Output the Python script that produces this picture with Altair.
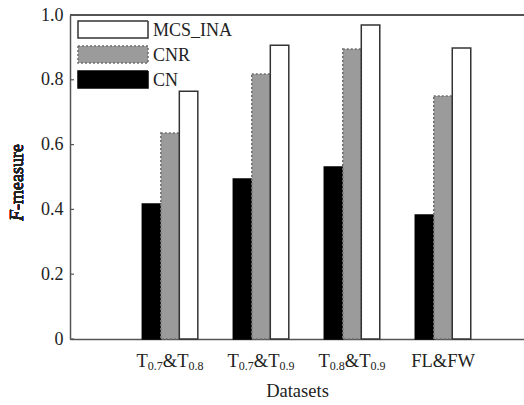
import altair as alt
import pandas as pd

datasets = ["T0.7&T0.8", "T0.7&T0.9", "T0.8&T0.9", "FL&FW"]
series = ["CN", "CNR", "MCS_INA"]
legend_order = ["MCS_INA", "CNR", "CN"]
cn = [0.417, 0.494, 0.531, 0.383]
cnr = [0.636, 0.818, 0.895, 0.750]
mcs = [0.765, 0.907, 0.969, 0.898]
yticks = [0, 0.2, 0.4, 0.6, 0.8, 1.0]

# tick label pieces (main text and subscripts) for each dataset
label_dataset = ["T0.7&T0.8"] * 4 + ["T0.7&T0.9"] * 4 + ["T0.8&T0.9"] * 4 + ["FL&FW"]
label_text = ["T", "0.7", "&T", "0.8", "T", "0.7", "&T", "0.9", "T", "0.8", "&T", "0.9", "FL&FW"]
label_sub = [0, 1, 0, 1] * 3 + [0]

FONT = "Liberation Serif"
MAIN, SUB = 18.5, 12
W, H = 454, 324
P_INNER, P_OUTER = 0.39, 0.69
STEP = W / (len(datasets) - P_INNER + 2 * P_OUTER)
HALF_BAND = STEP * (1 - P_INNER) / 2


def text_width(t, size):
    em = {"T": 0.611, "&": 0.778, ".": 0.25, "F": 0.556, "L": 0.611, "W": 0.944}
    return sum(em.get(c, 0.5) for c in t) * size


rows = []
for i, d in enumerate(datasets):
    for s, vals in zip(series, [cn, cnr, mcs]):
        rows.append({"dataset": d, "method": s, "value": vals[i]})
df = pd.DataFrame(rows)
tick_df = pd.DataFrame({"value": yticks})
leg_df = pd.DataFrame({"method": legend_order})

lab_rows = []
for d in datasets:
    parts = [(t, s) for dd, t, s in zip(label_dataset, label_text, label_sub) if dd == d]
    widths = [text_width(t, SUB if s else MAIN) for t, s in parts]
    pos = HALF_BAND - sum(widths) / 2
    for (t, s), w in zip(parts, widths):
        lab_rows.append({"dataset": d, "text": t, "dx": pos, "dy": 3 if s else 0,
                         "size": SUB if s else MAIN})
        pos += w
lab_df = pd.DataFrame(lab_rows)

xscale = alt.Scale(domain=datasets, paddingInner=P_INNER, paddingOuter=P_OUTER, align=0.576)
offscale = alt.Scale(domain=series, paddingInner=0, paddingOuter=0)
yscale = alt.Scale(domain=[0, 1], nice=False)
fill_s = alt.Scale(domain=series, range=["#000000", "#9b9b9b", "#ffffff"])
stroke_s = alt.Scale(domain=series, range=["#000000", "#6e6e6e", "#333333"])
dash_s = alt.Scale(domain=series, range=[[1, 0], [2, 2], [1, 0]])

bars = alt.Chart(df).mark_bar(strokeWidth=1.5).encode(
    x=alt.X("dataset:N", scale=xscale, sort=datasets,
            axis=alt.Axis(title="Datasets", labels=False, ticks=False,
                          domainColor="#555", domainWidth=1.5,
                          titleFont=FONT, titleFontSize=18.5,
                          titleFontWeight="normal", titleColor="#222",
                          titlePadding=42)),
    xOffset=alt.XOffset("method:N", scale=offscale, sort=series),
    y=alt.Y("value:Q", scale=yscale,
            axis=alt.Axis(title=None, values=yticks,
                          labelExpr="datum.value == 0 ? '0' : format(datum.value, '.1f')",
                          grid=False, ticks=False,
                          domainColor="#555", domainWidth=1.5,
                          labelFont=FONT, labelFontSize=18, labelColor="#222",
                          labelPadding=7)),
    fill=alt.Fill("method:N", scale=fill_s, legend=None),
    stroke=alt.Stroke("method:N", scale=stroke_s, legend=None),
    strokeDash=alt.StrokeDash("method:N", scale=dash_s, legend=None),
)

xlabels = alt.Chart(lab_df).mark_text(align="left", baseline="alphabetic", font=FONT, color="#222").encode(
    x=alt.X("dataset:N", scale=xscale, sort=datasets),
    xOffset=alt.XOffset("dx:Q", scale=None),
    yOffset=alt.YOffset("dy:Q", scale=None),
    y=alt.value(352),
    text="text:N",
    size=alt.Size("size:Q", scale=None),
)

ticks = alt.Chart(tick_df).mark_rule(color="#555", strokeWidth=1.2).encode(
    y=alt.Y("value:Q", scale=yscale, axis=None), x=alt.value(0), x2=alt.value(4)
)

top_line = alt.Chart(df).mark_rule(color="#555", strokeWidth=1.5).encode(
    x=alt.value(0), x2=alt.value(W), y=alt.value(0)
)

leg_y = alt.Y("method:N", scale=alt.Scale(type="point", domain=legend_order, range=[14.5, 64.5], padding=0),
              axis=None)
leg_sym = alt.Chart(leg_df).mark_point(
    shape="M-1,-0.243L1,-0.243L1,0.243L-1,0.243Z", size=4900, filled=True, opacity=1,
    strokeWidth=1.5, strokeOpacity=1, fillOpacity=1,
).encode(
    x=alt.value(43), y=leg_y,
    fill=alt.Fill("method:N", scale=fill_s, legend=None),
    stroke=alt.Stroke("method:N", scale=stroke_s, legend=None),
    strokeDash=alt.StrokeDash("method:N", scale=dash_s, legend=None),
)
leg_txt = alt.Chart(leg_df).mark_text(align="left", baseline="middle", font=FONT, fontSize=18,
                                      color="#222", dy=1).encode(
    x=alt.value(83), y=leg_y, text="method:N"
)

title_f = alt.Chart(df).mark_text(text="F", angle=270, align="left", baseline="middle",
                                  font=FONT, fontSize=18, fontStyle="italic", color="#222").encode(
    x=alt.value(-52), y=alt.value(206)
)
title_rest = alt.Chart(df).mark_text(text="-measure", angle=270, align="left", baseline="middle",
                                     font=FONT, fontSize=18, color="#222").encode(
    x=alt.value(-52), y=alt.value(195)
)

chart = alt.layer(bars, xlabels, ticks, top_line, leg_sym, leg_txt, title_f, title_rest).resolve_scale(
    xOffset="independent", y="independent"
).properties(
    width=W, height=H,
    padding={"left": 70, "top": 15, "right": 0, "bottom": 66},
    autosize=alt.AutoSizeParams(type="none"),
).configure_view(stroke=None).configure(background="white", font=FONT)

chart.save("out.html", embed_options={"renderer": "svg", "actions": False})
